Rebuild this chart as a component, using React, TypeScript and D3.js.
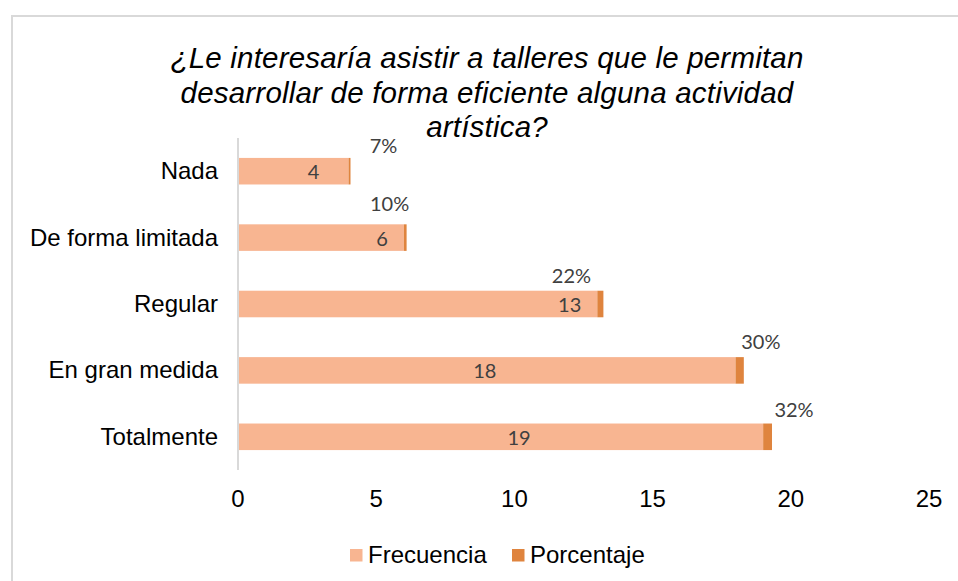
import { useEffect, useRef } from 'react';
import * as d3 from 'd3';

const categories = ['Nada', 'De forma limitada', 'Regular', 'En gran medida', 'Totalmente'];
const frecuencia = [4, 6, 13, 18, 19];
const porcentaje = [0.07, 0.10, 0.22, 0.30, 0.32];
const pctLabels = ['7%', '10%', '22%', '30%', '32%'];
const xTicks = [0, 5, 10, 15, 20, 25];
const seriesNames = ['Frecuencia', 'Porcentaje'];
const titleLines = [
    '¿Le interesaría asistir a talleres que le permitan',
    'desarrollar de forma eficiente alguna actividad',
    'artística?',
];

// manual label placement from the original (Excel moved these by hand)
const freqLabelAt = [2.73, 5.21, 12.0, 8.93, 10.17];
const pctNudge: [number, number][] = [[33, -5], [-17, -13], [-32, -8], [17, -8], [22, -7]];

const COLORS = ['#F8B591', '#DF843E'];

export default function App() {
    const svgRef = useRef<SVGSVGElement>(null);

    useEffect(() => {
        if (!svgRef.current) return;
        const svg = d3.select(svgRef.current);
        svg.selectAll('*').remove();

        const W = 958, H = 581;
        const arial = 'Liberation Sans, Arial, sans-serif';
        const calibri = 'Lato, Carlito, Calibri, sans-serif';

        // chart frame
        svg.append('rect')
            .attr('x', 12).attr('y', 16).attr('width', W + 20).attr('height', H + 20)
            .attr('fill', '#fff').attr('stroke', '#D9D9D9').attr('stroke-width', 2);

        // Title
        svg.append('g').selectAll('text')
            .data(titleLines)
            .join('text')
            .attr('x', 487).attr('y', (_, i) => 68 + i * 34.5)
            .attr('text-anchor', 'middle')
            .attr('font-family', arial).attr('font-style', 'italic').attr('font-size', 29.5)
            .attr('letter-spacing', 0.2)
            .attr('fill', '#000')
            .text(d => d);

        const x = d3.scaleLinear().domain([0, 25]).range([238, 929]);
        const y = d3.scaleBand().domain(categories).range([138, 470]).paddingInner(0.6).paddingOuter(0.3);

        const rows = categories.map((c, i) => ({ c, f: frecuencia[i], p: porcentaje[i], i }));

        // vertical axis line
        svg.append('line')
            .attr('x1', x(0)).attr('x2', x(0)).attr('y1', 138).attr('y2', 470)
            .attr('stroke', '#D9D9D9').attr('stroke-width', 2);

        // Frecuencia bars
        svg.selectAll('.bar-f')
            .data(rows)
            .join('rect')
            .attr('class', 'bar-f')
            .attr('x', x(0) + 1).attr('y', d => y(d.c)!)
            .attr('width', d => x(d.f) - x(0) - 1).attr('height', y.bandwidth())
            .attr('fill', COLORS[0]);

        // Porcentaje bars (stacked)
        svg.selectAll('.bar-p')
            .data(rows)
            .join('rect')
            .attr('class', 'bar-p')
            .attr('x', d => x(d.f)).attr('y', d => y(d.c)!)
            .attr('width', d => x(d.f + d.p) - x(d.f)).attr('height', y.bandwidth())
            .attr('fill', COLORS[1]);

        // frequency labels
        svg.selectAll('.lbl-f')
            .data(rows)
            .join('text')
            .attr('class', 'lbl-f')
            .attr('x', d => x(freqLabelAt[d.i]))
            .attr('y', d => y(d.c)! + y.bandwidth() / 2 + 8)
            .attr('text-anchor', 'middle')
            .attr('font-family', calibri).attr('font-size', 20).attr('fill', '#404040')
            .text(d => d.f);

        // percentage labels
        svg.selectAll('.lbl-p')
            .data(rows)
            .join('text')
            .attr('class', 'lbl-p')
            .attr('x', d => x(d.f + d.p) + pctNudge[d.i][0])
            .attr('y', d => y(d.c)! + pctNudge[d.i][1])
            .attr('text-anchor', 'middle')
            .attr('font-family', calibri).attr('font-size', 20).attr('fill', '#404040')
            .text(d => pctLabels[d.i]);

        // Category labels
        svg.selectAll('.cat')
            .data(categories)
            .join('text')
            .attr('class', 'cat')
            .attr('x', 218).attr('y', d => y(d)! + y.bandwidth() / 2 + 8)
            .attr('text-anchor', 'end')
            .attr('font-family', arial).attr('font-size', 24).attr('fill', '#000')
            .text(d => d);

        // X tick labels
        svg.selectAll('.tick-x')
            .data(xTicks)
            .join('text')
            .attr('class', 'tick-x')
            .attr('x', d => x(d)).attr('y', 507)
            .attr('text-anchor', 'middle')
            .attr('font-family', arial).attr('font-size', 24).attr('fill', '#000')
            .text(d => d);

        // Legend
        const legX = [350, 512];
        const leg = svg.append('g');
        seriesNames.forEach((name, i) => {
            leg.append('rect').attr('x', legX[i]).attr('y', 549).attr('width', 12.5).attr('height', 12.5)
                .attr('fill', COLORS[i]);
            leg.append('text').attr('x', legX[i] + 18).attr('y', 563)
                .attr('font-family', arial).attr('font-size', 24).attr('fill', '#000')
                .text(name);
        });
    }, []);

    return (
        <svg ref={svgRef} width={958} height={581}
            style={{ position: 'absolute', left: 0, top: 0, display: 'block', background: '#fff' }} />
    );
}
